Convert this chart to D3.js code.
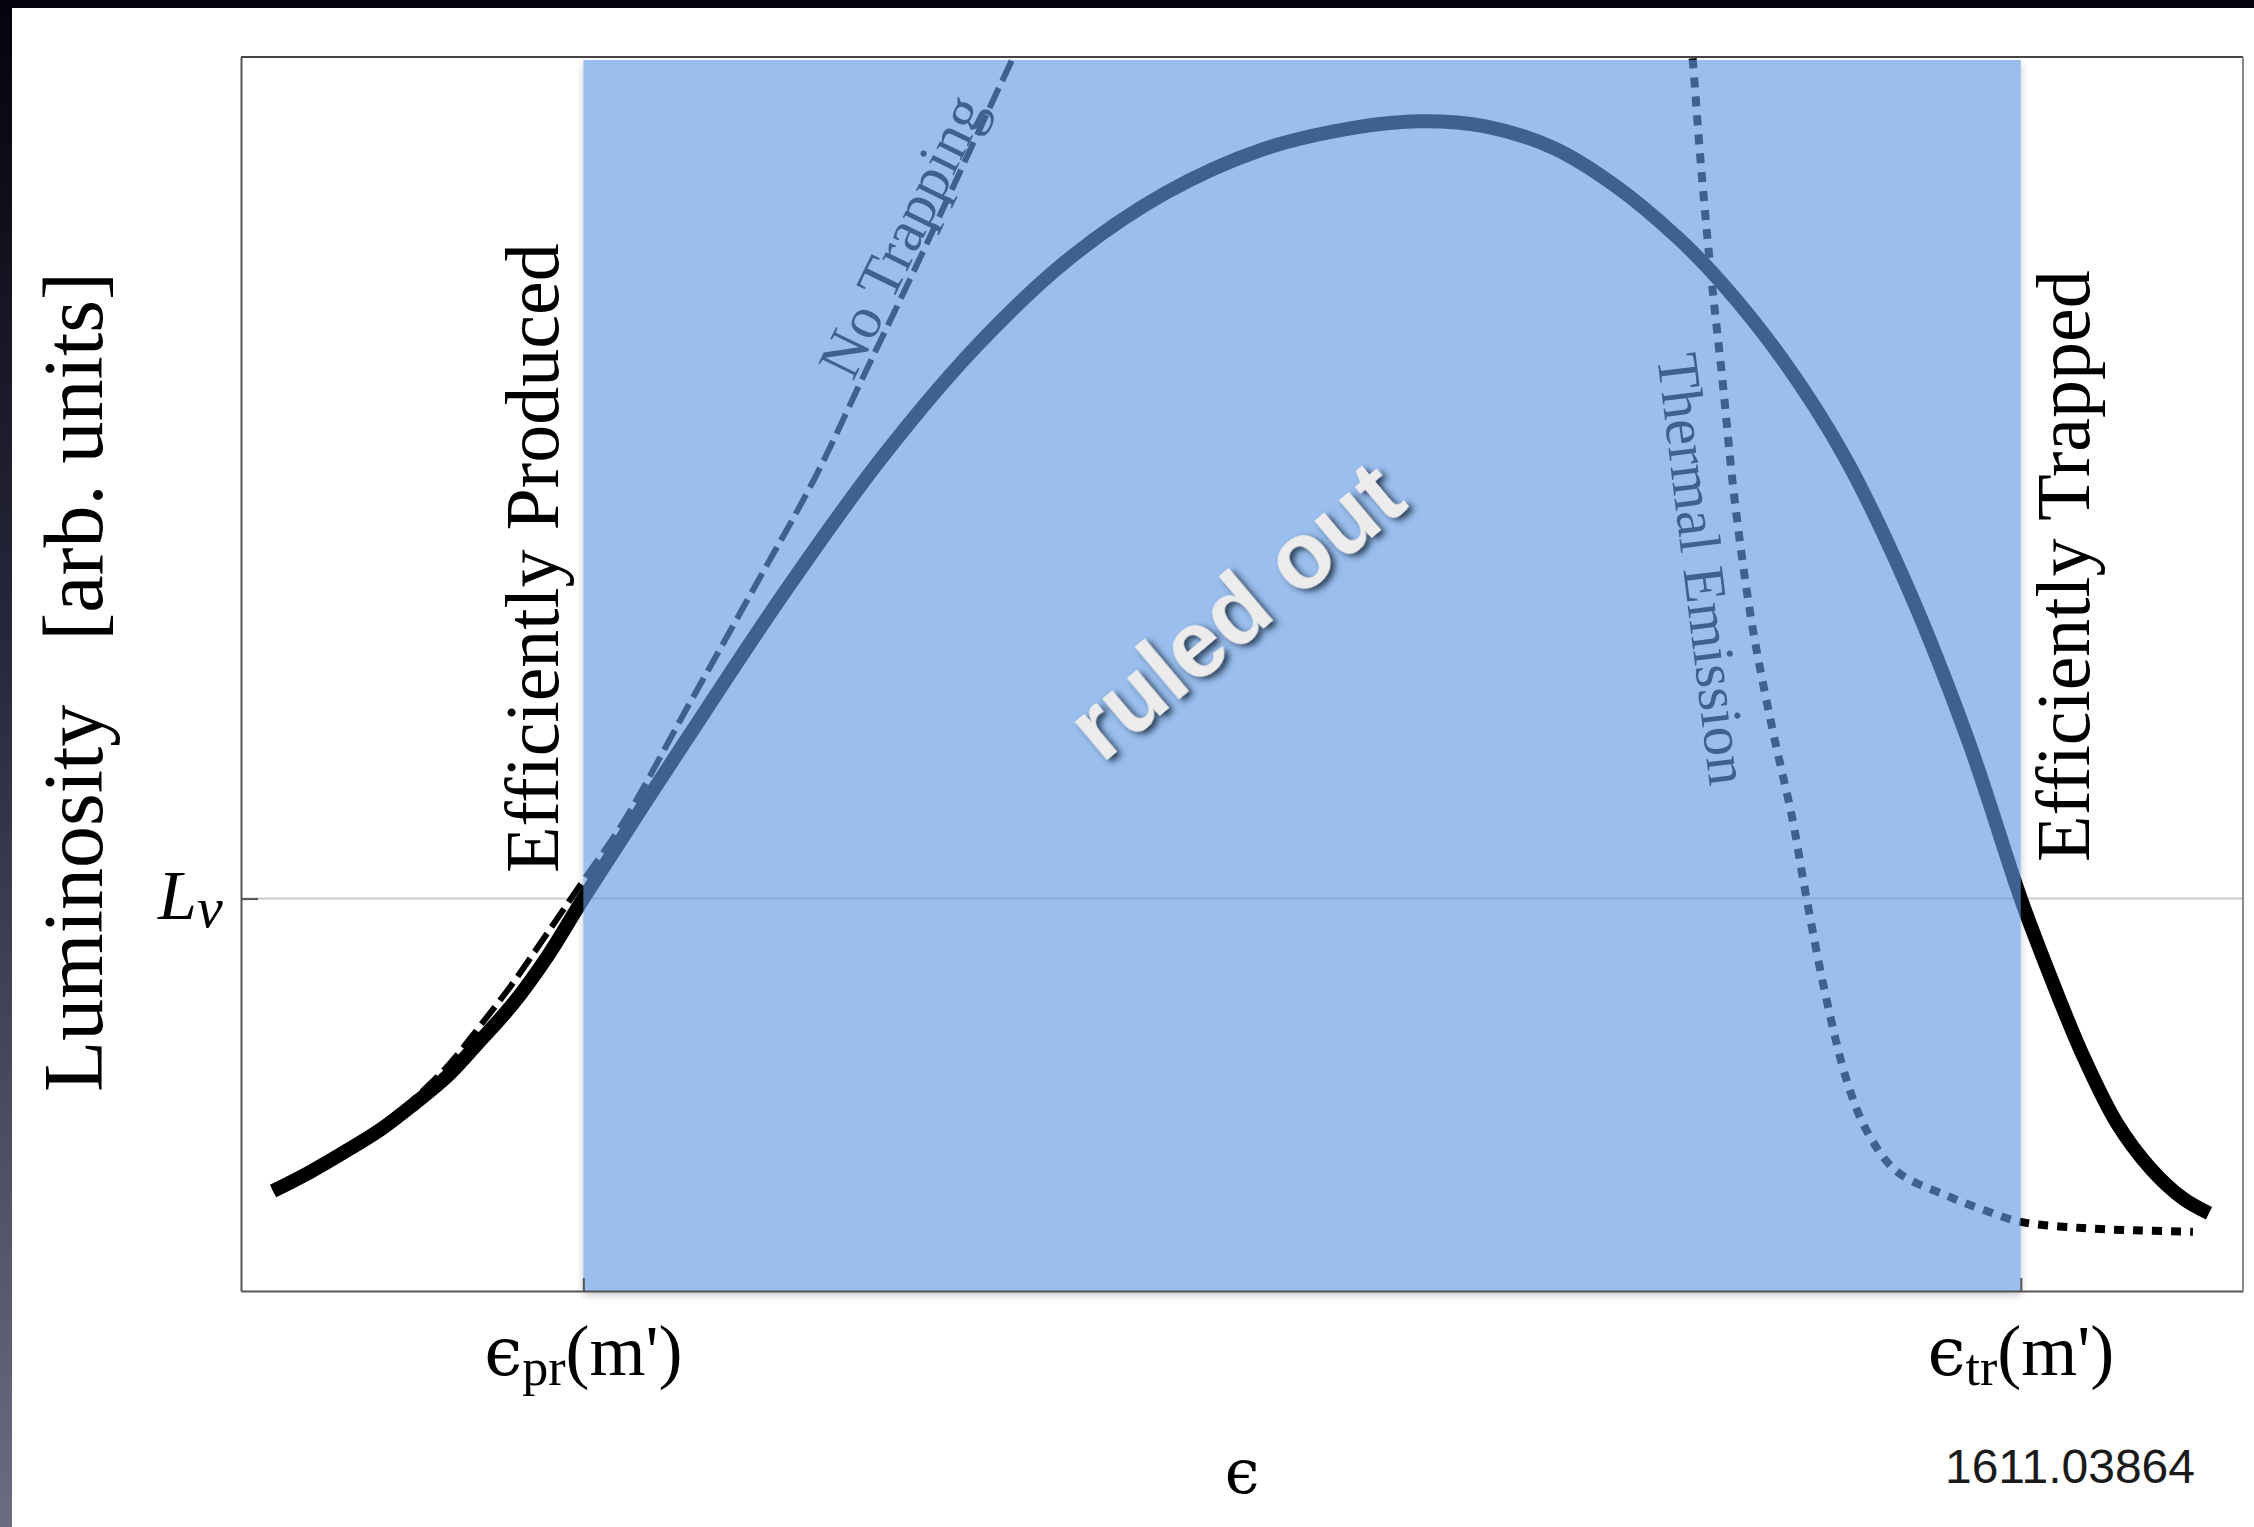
<!DOCTYPE html>
<html>
<head>
<meta charset="utf-8">
<script src="https://cdn.jsdelivr.net/npm/d3@7"></script>
<style>
  html, body { margin: 0; padding: 0; background: #ffffff; overflow: hidden; }
  svg { display: block; }
</style>
</head>
<body>
<svg id="chart" width="2254" height="1527"></svg>
<script>
// Luminosity versus coupling ε (arbitrary units on both axes)

// total luminosity curve
const mainEps = [1.6, 3.4, 5.2, 6.9, 8.6, 10.3, 11.9, 13.6, 15.3, 17.1, 22.3, 27.1, 31.9, 36.7, 41.4, 46.2, 51.0, 55.7, 58.9, 62.1, 65.6, 68.7, 71.8, 73.9, 77.0, 80.1, 83.2, 86.3, 88.9, 90.4, 92.0, 93.7, 95.4, 97.0, 98.3];
const mainLum = [8.1, 9.6, 11.3, 13.0, 15.1, 17.4, 20.2, 23.3, 27.1, 31.8, 44.8, 56.5, 67.3, 76.5, 83.7, 89.0, 92.5, 94.3, 94.8, 94.4, 92.6, 89.5, 85.3, 81.8, 75.5, 67.6, 57.2, 44.5, 31.8, 25.4, 19.1, 13.6, 9.9, 7.5, 6.3];

// luminosity without trapping
const noTrapEps = [1.6, 3.4, 5.2, 6.9, 8.6, 10.3, 11.9, 13.6, 15.3, 17.2, 19.1, 22.3, 25.5, 28.7, 31.2, 33.8, 37.8, 39.0];
const noTrapLum = [8.1, 9.6, 11.3, 13.1, 15.5, 18.2, 21.4, 25.0, 29.0, 33.5, 38.0, 47.3, 56.6, 66.0, 74.5, 83.3, 97.3, 101.4];

// thermal emission
const thermalEps = [72.4, 72.5, 72.9, 73.4, 74.0, 74.6, 75.5, 76.5, 77.5, 78.2, 79.2, 80.2, 81.2, 82.7, 85.4, 87.0, 88.9, 92.0, 94.9, 97.5];
const thermalLum = [101.4, 100.0, 91.7, 82.8, 73.8, 64.2, 53.8, 45.5, 38.2, 31.8, 23.6, 17.1, 13.0, 9.7, 7.6, 6.6, 5.6, 5.1, 4.9, 4.8];

// reference values
const epsPr = 17.1;   // efficient production threshold
const epsTr = 88.9;   // efficient trapping threshold
const lumNu = 31.8;   // neutrino luminosity L_ν

const xTickLabels = [{v: epsPr, sub: "pr"}, {v: epsTr, sub: "tr"}];
const yTickLabels = [{v: lumNu, main: "L", sub: "ν"}];

const serif = '"Liberation Serif","Times New Roman","DejaVu Serif",serif';
const sans = '"Liberation Sans","Helvetica Neue",Arial,sans-serif';

const svg = d3.select("#chart");
const W = 2254, H = 1527;
const plot = {left: 241, top: 57, right: 2243, bottom: 1291};

const x = d3.scaleLinear().domain([0, 100]).range([plot.left, plot.right]);
const y = d3.scaleLinear().domain([0, 100]).range([plot.bottom, plot.top]);

const defs = svg.append("defs");

// frame decoration: dark band on top and gradient strip at the left
const grad = defs.append("linearGradient").attr("id", "strip").attr("x1", 0).attr("y1", 0).attr("x2", 0).attr("y2", 1);
grad.append("stop").attr("offset", "0%").attr("stop-color", "#04040c");
grad.append("stop").attr("offset", "45%").attr("stop-color", "#2a2a40");
grad.append("stop").attr("offset", "100%").attr("stop-color", "#6c6c80");

svg.append("rect").attr("x", 0).attr("y", 0).attr("width", W).attr("height", H).attr("fill", "#ffffff");
svg.append("rect").attr("x", 0).attr("y", 0).attr("width", 12).attr("height", H).attr("fill", "url(#strip)");
svg.append("rect").attr("x", 0).attr("y", 0).attr("width", W).attr("height", 8).attr("fill", "#04040c");

// clip for the curves
defs.append("clipPath").attr("id", "plotClip")
  .append("rect")
  .attr("x", plot.left).attr("y", plot.top)
  .attr("width", plot.right - plot.left).attr("height", plot.bottom - plot.top);

// L_ν reference line
svg.append("line")
  .attr("x1", x(0)).attr("x2", x(100))
  .attr("y1", y(lumNu)).attr("y2", y(lumNu))
  .attr("stroke", "#c9c9c9").attr("stroke-width", 2);

const line = d3.line()
  .x(d => x(d[0])).y(d => y(d[1]))
  .curve(d3.curveCatmullRom.alpha(0.5));

const curves = svg.append("g").attr("clip-path", "url(#plotClip)");

curves.append("path")
  .datum(d3.zip(thermalEps, thermalLum))
  .attr("d", line)
  .attr("fill", "none").attr("stroke", "#000").attr("stroke-width", 8)
  .attr("stroke-dasharray", "10,9");

curves.append("path")
  .datum(d3.zip(noTrapEps, noTrapLum))
  .attr("d", line)
  .attr("fill", "none").attr("stroke", "#000").attr("stroke-width", 6)
  .attr("stroke-dasharray", "22,8");

curves.append("path")
  .datum(d3.zip(mainEps, mainLum))
  .attr("d", line)
  .attr("fill", "none").attr("stroke", "#000").attr("stroke-width", 14);

// curve labels
svg.append("text")
  .attr("transform", "translate(853,382) rotate(-64)")
  .attr("font-family", serif).attr("font-size", 60).attr("fill", "#000")
  .text("No Trapping");

svg.append("text")
  .attr("transform", "translate(1657,356) rotate(83)")
  .attr("font-family", serif).attr("font-size", 59).attr("fill", "#000")
  .text("Thermal Emission");

svg.append("text")
  .attr("transform", "translate(558,873) rotate(-90)")
  .attr("font-family", serif).attr("font-size", 76).attr("fill", "#000")
  .text("Efficiently Produced");

svg.append("text")
  .attr("transform", "translate(2089,862) rotate(-90)")
  .attr("font-family", serif).attr("font-size", 76).attr("fill", "#000")
  .text("Efficiently Trapped");

// excluded band with a soft shadow around it
const bx0 = x(epsPr), bx1 = x(epsTr), by0 = y(100) + 3, by1 = y(0);
const shadowMask = defs.append("mask").attr("id", "outsideBand")
  .attr("maskUnits", "userSpaceOnUse").attr("x", 0).attr("y", 0).attr("width", W).attr("height", H);
shadowMask.append("rect").attr("x", 0).attr("y", 0).attr("width", W).attr("height", H).attr("fill", "#fff");
shadowMask.append("rect").attr("x", bx0).attr("y", by0).attr("width", bx1 - bx0).attr("height", by1 - by0).attr("fill", "#000");

defs.append("filter").attr("id", "bandBlur").attr("x", "-5%").attr("y", "-5%").attr("width", "110%").attr("height", "110%")
  .append("feGaussianBlur").attr("stdDeviation", 4);

svg.append("g").attr("mask", "url(#outsideBand)")
  .append("rect")
  .attr("x", bx0).attr("y", by0 + 4).attr("width", bx1 - bx0).attr("height", by1 - by0)
  .attr("fill", "#000").attr("opacity", 0.22).attr("filter", "url(#bandBlur)");

svg.append("rect")
  .attr("x", bx0).attr("y", by0).attr("width", bx1 - bx0).attr("height", by1 - by0)
  .attr("fill", "rgb(96,153,227)").attr("fill-opacity", 0.635);

// "ruled out" stamp
const ts = defs.append("filter").attr("id", "textShadow").attr("x", "-20%").attr("y", "-20%").attr("width", "140%").attr("height", "140%");
ts.append("feDropShadow").attr("dx", 2).attr("dy", 5).attr("stdDeviation", 3)
  .attr("flood-color", "#1c304a").attr("flood-opacity", 0.9);

svg.append("text")
  .attr("transform", "translate(1256,635) rotate(-40)")
  .attr("text-anchor", "middle")
  .attr("font-family", '"Liberation Sans",Arial,sans-serif')
  .attr("font-weight", "bold")
  .attr("font-size", 94)
  .attr("fill", "#ececec")
  .attr("filter", "url(#textShadow)")
  .text("ruled out");

// axes forming the frame
const xAxis = d3.axisBottom(x).tickValues(xTickLabels.map(d => d.v)).tickSize(-13).tickSizeOuter(0).tickFormat("");
const yAxis = d3.axisLeft(y).tickValues(yTickLabels.map(d => d.v)).tickSize(-17).tickSizeOuter(0).tickFormat("");

const gx = svg.append("g").attr("transform", `translate(0,${plot.bottom})`).call(xAxis);
const gy = svg.append("g").attr("transform", `translate(${plot.left},0)`).call(yAxis);
[gx, gy].forEach(g => {
  g.select(".domain").attr("stroke", "#555").attr("stroke-width", 2);
  g.selectAll(".tick line").attr("stroke", "#555").attr("stroke-width", 2);
});
svg.append("line").attr("x1", plot.left).attr("x2", plot.right).attr("y1", plot.top).attr("y2", plot.top)
  .attr("stroke", "#444").attr("stroke-width", 2);
svg.append("line").attr("x1", plot.right).attr("x2", plot.right).attr("y1", plot.top).attr("y2", plot.bottom)
  .attr("stroke", "#888").attr("stroke-width", 2);

// x tick labels: ϵ_pr(m') and ϵ_tr(m')
xTickLabels.forEach(d => {
  const t = svg.append("text")
    .attr("x", x(d.v)).attr("y", 1375)
    .attr("text-anchor", "middle")
    .attr("font-family", serif).attr("font-size", 72).attr("fill", "#000");
  t.append("tspan").attr("font-family", '"DejaVu Serif",serif').attr("font-size", 68).text("ϵ");
  t.append("tspan").attr("font-size", 52).attr("dy", 10).text(d.sub);
  t.append("tspan").attr("dy", -10).text("(m')");
});

// y tick label: L_ν
yTickLabels.forEach(d => {
  const t = svg.append("text")
    .attr("x", 158).attr("y", y(d.v) + 20)
    .attr("font-family", serif).attr("font-style", "italic").attr("font-size", 70).attr("fill", "#000");
  t.append("tspan").text(d.main);
  t.append("tspan").attr("font-size", 58).attr("dy", 8).text(d.sub);
});

// axis titles
svg.append("text")
  .attr("transform", "translate(102,1092) rotate(-90)")
  .attr("font-family", serif).attr("font-size", 84).attr("fill", "#000")
  .call(t => {
    t.append("tspan").text("Luminosity");
    t.append("tspan").attr("dx", 64).text("[arb. units]");
  });

svg.append("text")
  .attr("x", x(50)).attr("y", 1493)
  .attr("text-anchor", "middle")
  .attr("font-family", '"DejaVu Serif",serif').attr("font-size", 62).attr("fill", "#000")
  .text("ϵ");

svg.append("text")
  .attr("x", 2195).attr("y", 1483)
  .attr("text-anchor", "end")
  .attr("font-family", sans).attr("font-size", 48).attr("fill", "#1a1a1a")
  .text("1611.03864");
</script>
</body>
</html>
